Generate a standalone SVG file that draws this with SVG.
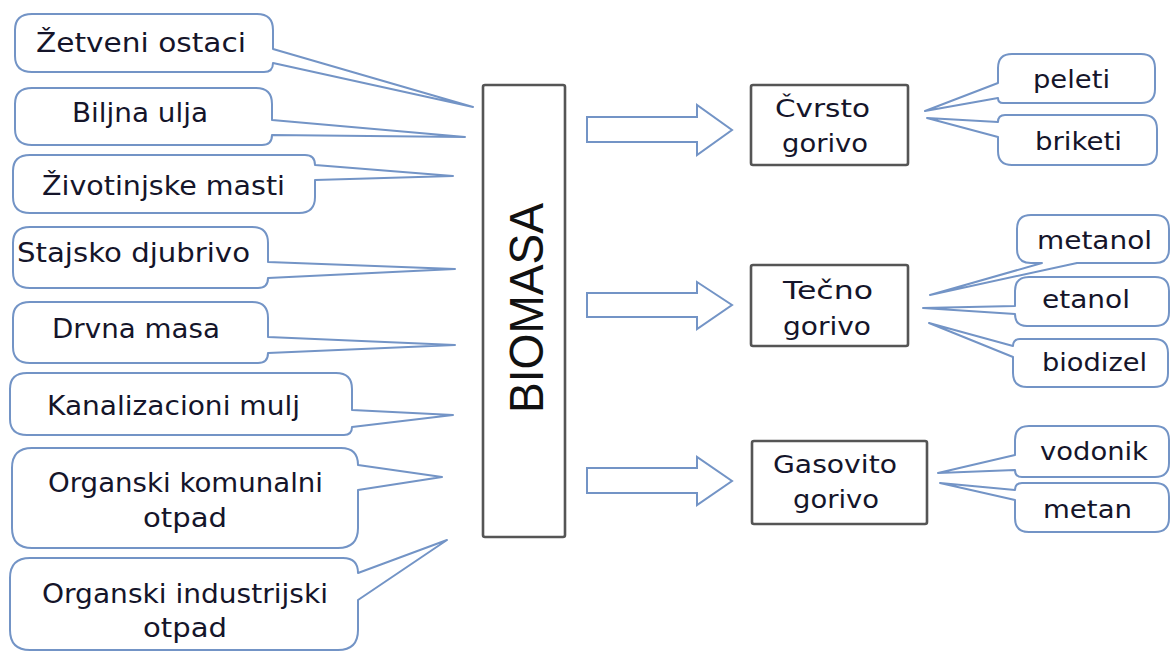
<svg xmlns="http://www.w3.org/2000/svg" width="1171" height="652" viewBox="0 0 1171 652">
  <style>
    .callout { fill: #ffffff; stroke: #7394c6; stroke-width: 2; stroke-linejoin: round; }
    .box { fill: #ffffff; stroke: #555555; stroke-width: 2.6; }
    .flow { fill: #ffffff; stroke: #7394c6; stroke-width: 2; stroke-linejoin: miter; }
    .lbl { font-family: "DejaVu Sans", Verdana, sans-serif; font-size: 26px; fill: #15152a; }
    .lbl-r { font-family: "DejaVu Sans", Verdana, sans-serif; font-size: 25px; fill: #15152a; }
    .title { font-family: "Liberation Sans", Arial, sans-serif; font-size: 48px; fill: #111111; }
  </style>

  <rect width="1171" height="652" fill="#ffffff"/>

  <!-- biomass sources (speech-bubble callouts pointing at the central box) -->
  <g id="src-zetveni-ostaci">
    <path class="callout" d="M32,14 H257 Q273,14 273,30 V49 L473,107 L273,63 Q273,72 264,72 H32 Q15,72 15,56 V30 Q15,14 32,14 Z"/>
    <text class="lbl" x="36" y="52" textLength="210" lengthAdjust="spacingAndGlyphs">Žetveni ostaci</text>
  </g>
  <g id="src-biljna-ulja">
    <path class="callout" d="M32,88 H256 Q272,88 272,104 V120 L465,137 L272,135 Q272,145 262,145 H32 Q15,145 15,129 V104 Q15,88 32,88 Z"/>
    <text class="lbl" x="72" y="122" textLength="136" lengthAdjust="spacingAndGlyphs">Biljna ulja</text>
  </g>
  <g id="src-zivotinjske-masti">
    <path class="callout" d="M30,155 H305 Q315,155 315,165 L453,176 L315,180 V197 Q315,213 299,213 H30 Q13,213 13,197 V171 Q13,155 30,155 Z"/>
    <text class="lbl" x="42" y="195" textLength="243" lengthAdjust="spacingAndGlyphs">Životinjske masti</text>
  </g>
  <g id="src-stajsko-djubrivo">
    <path class="callout" d="M30,227 H252 Q268,227 268,243 V262 L455,269 L268,278 Q268,288 258,288 H30 Q13,288 13,272 V243 Q13,227 30,227 Z"/>
    <text class="lbl" x="17" y="262" textLength="233" lengthAdjust="spacingAndGlyphs">Stajsko djubrivo</text>
  </g>
  <g id="src-drvna-masa">
    <path class="callout" d="M30,302 H252 Q268,302 268,318 V337 L455,345 L268,353 Q268,363 258,363 H30 Q13,363 13,347 V318 Q13,302 30,302 Z"/>
    <text class="lbl" x="52" y="338" textLength="168" lengthAdjust="spacingAndGlyphs">Drvna masa</text>
  </g>
  <g id="src-kanalizacioni-mulj">
    <path class="callout" d="M27,373 H336 Q352,373 352,389 V410 L453,415 L352,427 Q352,435 344,435 H27 Q10,435 10,419 V389 Q10,373 27,373 Z"/>
    <text class="lbl" x="47" y="415" textLength="253" lengthAdjust="spacingAndGlyphs">Kanalizacioni mulj</text>
  </g>
  <g id="src-komunalni-otpad">
    <path class="callout" d="M32,448 H341 Q358,448 358,465 L442,477 L358,490 V528 Q358,548 338,548 H32 Q12,548 12,528 V468 Q12,448 32,448 Z"/>
    <text class="lbl" x="48" y="492" textLength="275" lengthAdjust="spacingAndGlyphs">Organski komunalni</text>
    <text class="lbl" x="143" y="527" textLength="84" lengthAdjust="spacingAndGlyphs">otpad</text>
  </g>
  <g id="src-industrijski-otpad">
    <path class="callout" d="M30,558 H343 Q358,558 358,573 L447,540 L358,600 V630 Q358,650 338,650 H30 Q10,650 10,630 V578 Q10,558 30,558 Z"/>
    <text class="lbl" x="42" y="603" textLength="286" lengthAdjust="spacingAndGlyphs">Organski industrijski</text>
    <text class="lbl" x="143" y="637" textLength="84" lengthAdjust="spacingAndGlyphs">otpad</text>
  </g>

  <!-- central node -->
  <g id="biomasa">
    <rect class="box" x="483" y="85" width="82" height="452" rx="2"/>
    <text class="title" transform="translate(543,308) rotate(-90)" x="0" y="0" text-anchor="middle" textLength="210" lengthAdjust="spacingAndGlyphs">BIOMASA</text>
  </g>

  <!-- block arrows from the biomass box to each fuel type -->
  <g id="connectors">
    <polygon class="flow" points="587,117 697,117 697,105 732,130 697,155 697,142 587,142"/>
    <polygon class="flow" points="587,293 697,293 697,282 732,305 697,329 697,317 587,317"/>
    <polygon class="flow" points="587,468 697,468 697,457 732,481 697,505 697,493 587,493"/>
  </g>

  <!-- fuel categories -->
  <g id="cvrsto-gorivo">
    <rect class="box" x="751" y="85" width="157" height="80" rx="2"/>
    <text class="lbl-r" x="775" y="117" textLength="95" lengthAdjust="spacingAndGlyphs">Čvrsto</text>
    <text class="lbl-r" x="782" y="152" textLength="86" lengthAdjust="spacingAndGlyphs">gorivo</text>
  </g>
  <g id="tecno-gorivo">
    <rect class="box" x="751" y="265" width="157" height="81" rx="2"/>
    <text class="lbl-r" x="783" y="299" textLength="90" lengthAdjust="spacingAndGlyphs">Tečno</text>
    <text class="lbl-r" x="783" y="335" textLength="88" lengthAdjust="spacingAndGlyphs">gorivo</text>
  </g>
  <g id="gasovito-gorivo">
    <rect class="box" x="752" y="441" width="175" height="83" rx="2"/>
    <text class="lbl-r" x="773" y="473" textLength="124" lengthAdjust="spacingAndGlyphs">Gasovito</text>
    <text class="lbl-r" x="793" y="508" textLength="86" lengthAdjust="spacingAndGlyphs">gorivo</text>
  </g>

  <!-- products (callouts pointing back at their fuel category) -->
  <g id="prod-peleti">
    <path class="callout" d="M1012,54 H1141 Q1155,54 1155,68 V89 Q1155,103 1141,103 H1003 Q998,103 998,98 L925,111 L998,83 V68 Q998,54 1012,54 Z"/>
    <text class="lbl-r" x="1033" y="88" textLength="77" lengthAdjust="spacingAndGlyphs">peleti</text>
  </g>
  <g id="prod-briketi">
    <path class="callout" d="M1005,115 H1143 Q1157,115 1157,129 V151 Q1157,165 1143,165 H1012 Q998,165 998,151 V137 L927,118 L998,122 Q998,115 1005,115 Z"/>
    <text class="lbl-r" x="1035" y="150" textLength="87" lengthAdjust="spacingAndGlyphs">briketi</text>
  </g>
  <g id="prod-metanol">
    <path class="callout" d="M1031,215 H1155 Q1169,215 1169,229 V249 Q1169,263 1155,263 H1077 L930,295 L1042,263 H1031 Q1017,263 1017,249 V229 Q1017,215 1031,215 Z"/>
    <text class="lbl-r" x="1037" y="249" textLength="115" lengthAdjust="spacingAndGlyphs">metanol</text>
  </g>
  <g id="prod-etanol">
    <path class="callout" d="M1029,277 H1155 Q1169,277 1169,291 V312 Q1169,326 1155,326 H1027 Q1015,326 1015,314 L923,308 L1015,306 V291 Q1015,277 1029,277 Z"/>
    <text class="lbl-r" x="1042" y="308" textLength="88" lengthAdjust="spacingAndGlyphs">etanol</text>
  </g>
  <g id="prod-biodizel">
    <path class="callout" d="M1020,339 H1154 Q1168,339 1168,353 V373 Q1168,387 1154,387 H1027 Q1013,387 1013,373 V357 L929,323 L1013,346 Q1013,339 1020,339 Z"/>
    <text class="lbl-r" x="1042" y="371" textLength="105" lengthAdjust="spacingAndGlyphs">biodizel</text>
  </g>
  <g id="prod-vodonik">
    <path class="callout" d="M1029,426 H1155 Q1169,426 1169,440 V463 Q1169,477 1155,477 H1022 Q1015,477 1015,470 L938,473 L1015,455 V440 Q1015,426 1029,426 Z"/>
    <text class="lbl-r" x="1040" y="460" textLength="108" lengthAdjust="spacingAndGlyphs">vodonik</text>
  </g>
  <g id="prod-metan">
    <path class="callout" d="M1022,483 H1155 Q1169,483 1169,497 V518 Q1169,532 1155,532 H1029 Q1015,532 1015,518 V500 L940,483 L1015,490 Q1015,483 1022,483 Z"/>
    <text class="lbl-r" x="1043" y="518" textLength="89" lengthAdjust="spacingAndGlyphs">metan</text>
  </g>
</svg>
